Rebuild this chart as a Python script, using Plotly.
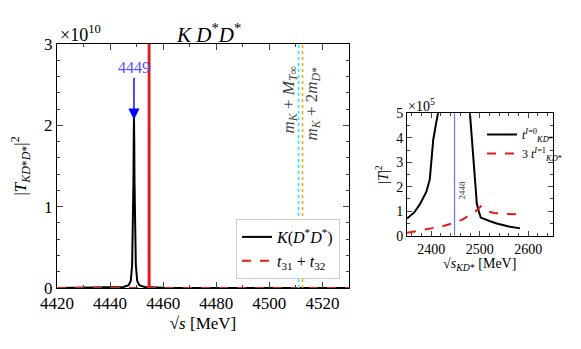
import plotly.graph_objects as go

# main panel: |T_{KD*D*}|^2 in units of 1e10
s_main = [4420, 4440, 4445, 4447, 4447.8, 4448.3, 4448.6, 4448.8, 4448.9, 4449.0,
          4449.1, 4449.2, 4449.4, 4449.7, 4450.2, 4451, 4453, 4460, 4480, 4530]
t_kdd = [0.0, 0.004, 0.012, 0.035, 0.09, 0.28, 0.68, 1.3, 1.8, 2.1,
         1.8, 1.3, 0.68, 0.28, 0.09, 0.035, 0.012, 0.004, 0.001, 0.0]

s_t3 = [4420, 4440, 4454.5, 4454.9, 4470, 4530]
t3132 = [0.0, 0.0, 0.0, 0.0, 0.0, 0.0]
s_spike = [4454.6, 4454.7, 4454.8]
t_spike = [0.0, 8.0, 0.0]

pole_mass = 4449
pole_height = 2.07
thr_T = 4511.0      # m_K + M_Tinf
thr_DD = 4512.5     # m_K + 2 m_D*

# side panel: |T|^2 in units of 1e5
s_i0_left = [2350, 2365, 2377, 2390, 2397, 2400, 2404, 2410, 2416, 2420]
t_i0_left = [0.7, 0.95, 1.3, 1.8, 2.3, 3.0, 3.9, 4.6, 5.2, 6.5]
s_i0_right = [2474, 2480, 2484, 2487, 2490, 2494, 2498, 2502, 2520, 2535, 2560, 2583]
t_i0_right = [6.5, 5.0, 4.0, 3.1, 2.2, 1.3, 1.0, 0.74, 0.6, 0.5, 0.38, 0.3]
s_i1 = [2350, 2375, 2400, 2425, 2447, 2465, 2480, 2492, 2502, 2508, 2515, 2530, 2550, 2583]
t_i1 = [0.12, 0.2, 0.3, 0.4, 0.52, 0.67, 0.85, 1.0, 1.2, 1.1, 1.0, 0.93, 0.89, 0.87]
pole_side = 2448

FONT = "Liberation Serif"

# page has an 8px body margin, so the figure is shrunk and positions are in window pixels
OFF = 8
W, H = 581 - OFF, 349 - OFF


def fx(px):
    return (px - OFF) / W


def fy(py):
    return 1 - (py - OFF) / H


fig = go.Figure()

fig.add_trace(go.Scatter(x=s_main, y=t_kdd, mode="lines", line=dict(color="black", width=2),
                         name="<i>K</i>(<i>D</i><sup>*</sup><i>D</i><sup>*</sup>)", legend="legend"))
fig.add_trace(go.Scatter(x=s_t3, y=t3132, mode="lines", line=dict(color="#e41a1c", width=2, dash="dash"),
                         name="<i>t</i><sub>31</sub> + <i>t</i><sub>32</sub>", legend="legend"))
fig.add_trace(go.Scatter(x=s_spike, y=t_spike, mode="lines", line=dict(color="#e41a1c", width=2.5),
                         showlegend=False))

for xv, col in [(thr_T, "cyan"), (thr_DD, "orange")]:
    fig.add_shape(type="line", x0=xv, x1=xv, y0=0, y1=3, xref="x", yref="y",
                  line=dict(color=col, width=1.5, dash="dot"))

fig.add_trace(go.Scatter(x=s_i0_left, y=t_i0_left, mode="lines", line=dict(color="black", width=2),
                         name="<i>t</i><sup><i>I</i>=0</sup><sub><i>KD</i>*</sub>",
                         xaxis="x2", yaxis="y2", legend="legend2"))
fig.add_trace(go.Scatter(x=s_i0_right, y=t_i0_right, mode="lines", line=dict(color="black", width=2),
                         showlegend=False, xaxis="x2", yaxis="y2"))
fig.add_trace(go.Scatter(x=s_i1, y=t_i1, mode="lines", line=dict(color="#e41a1c", width=2, dash="dash"),
                         name="3 <i>t</i><sup><i>I</i>=1</sup><sub><i>KD</i>*</sub>",
                         xaxis="x2", yaxis="y2", legend="legend2"))
fig.add_shape(type="line", x0=pole_side, x1=pole_side, y0=0, y1=5, xref="x2", yref="y2",
              line=dict(color="#6f6fff", width=1.2))

axis_common = dict(showline=True, linecolor="black", linewidth=1, mirror="ticks", ticks="inside",
                   showgrid=False, zeroline=False, tickcolor="#444")

fig.update_layout(
    width=W, height=H, margin=dict(l=0, r=0, t=0, b=0, autoexpand=False),
    paper_bgcolor="white", plot_bgcolor="white",
    font=dict(family=FONT, color="black"),
    xaxis=dict(domain=[fx(57), fx(349)], range=[4420, 4530], dtick=20, ticklen=6,
               minor=dict(dtick=10, ticks="inside", ticklen=3, tickcolor="#444"),
               tickfont=dict(size=17), title=dict(text="√<i>s</i> [MeV]", font=dict(size=17), standoff=4),
               **axis_common),
    yaxis=dict(domain=[fy(288), fy(44)], range=[0, 3], dtick=1, ticklen=6,
               minor=dict(dtick=0.2, ticks="inside", ticklen=3, tickcolor="#444"),
               tickfont=dict(size=17),
               title=dict(text="|<i>T</i><sub><i>KD</i>*<i>D</i>*</sub>|<sup>2</sup>", font=dict(size=17), standoff=13),
               **axis_common),
    xaxis2=dict(domain=[fx(407), fx(552.5)], range=[2350, 2650], dtick=100, ticklen=5, anchor="y2",
                minor=dict(dtick=20, ticks="inside", ticklen=3, tickcolor="#444"),
                tickfont=dict(size=14),
                title=dict(text="√<i>s</i><sub><i>KD</i>*</sub> [MeV]", font=dict(size=14), standoff=2),
                **axis_common),
    yaxis2=dict(domain=[fy(235.7), fy(113.3)], range=[0, 5], dtick=1, ticklen=5, anchor="x2",
                minor=dict(dtick=0.5, ticks="inside", ticklen=3, tickcolor="#444"),
                tickfont=dict(size=14),
                title=dict(text="|<i>T</i>|<sup>2</sup>", font=dict(size=14), standoff=4),
                **axis_common),
    legend=dict(x=fx(340), y=fy(279), xanchor="right", yanchor="bottom", bgcolor="white",
                bordercolor="#cccccc", borderwidth=1, font=dict(size=16), tracegroupgap=2),
    legend2=dict(x=fx(482), y=fy(120), xanchor="left", yanchor="top", bgcolor="rgba(0,0,0,0)",
                 font=dict(size=12), itemwidth=30),
    showlegend=True,
)

fig.add_annotation(text="<i>K D</i><sup>*</sup><i>D</i><sup>*</sup>", x=fx(208), y=fy(33),
                   xref="paper", yref="paper", yanchor="middle", showarrow=False, font=dict(size=21))
fig.add_annotation(text="×10<sup>10</sup>", x=fx(58), y=fy(33), xref="paper", yref="paper",
                   xanchor="left", yanchor="middle", showarrow=False, font=dict(size=18))
fig.add_annotation(text="×10<sup>5</sup>", x=fx(406), y=fy(105), xref="paper", yref="paper",
                   xanchor="left", yanchor="middle", showarrow=False, font=dict(size=14))
fig.add_annotation(text=str(pole_mass), x=pole_mass, y=pole_height, xref="x", yref="y",
                   ax=0, ay=-52, showarrow=True, arrowhead=2, arrowsize=1.6, arrowwidth=1.4,
                   arrowcolor="blue", font=dict(size=16, color="#5555ff"))
fig.add_annotation(text="<i>m</i><sub><i>K</i></sub> + <i>M</i><sub><i>T</i>∞</sub>", x=thr_T, y=fy(100),
                   xref="x", yref="paper", yanchor="middle", textangle=-90, xshift=-9, showarrow=False,
                   font=dict(size=17, color="#444"))
fig.add_annotation(text="<i>m</i><sub><i>K</i></sub> + 2<i>m</i><sub><i>D</i>*</sub>", x=thr_DD, y=fy(104),
                   xref="x", yref="paper", yanchor="middle", textangle=-90, xshift=10, showarrow=False,
                   font=dict(size=17, color="#444"))
fig.add_annotation(text=str(pole_side), x=pole_side, y=fy(190), xref="x2", yref="paper",
                   yanchor="middle", textangle=-90, xshift=7, showarrow=False, font=dict(size=9, color="#444"))

fig.write_html("out.html")
